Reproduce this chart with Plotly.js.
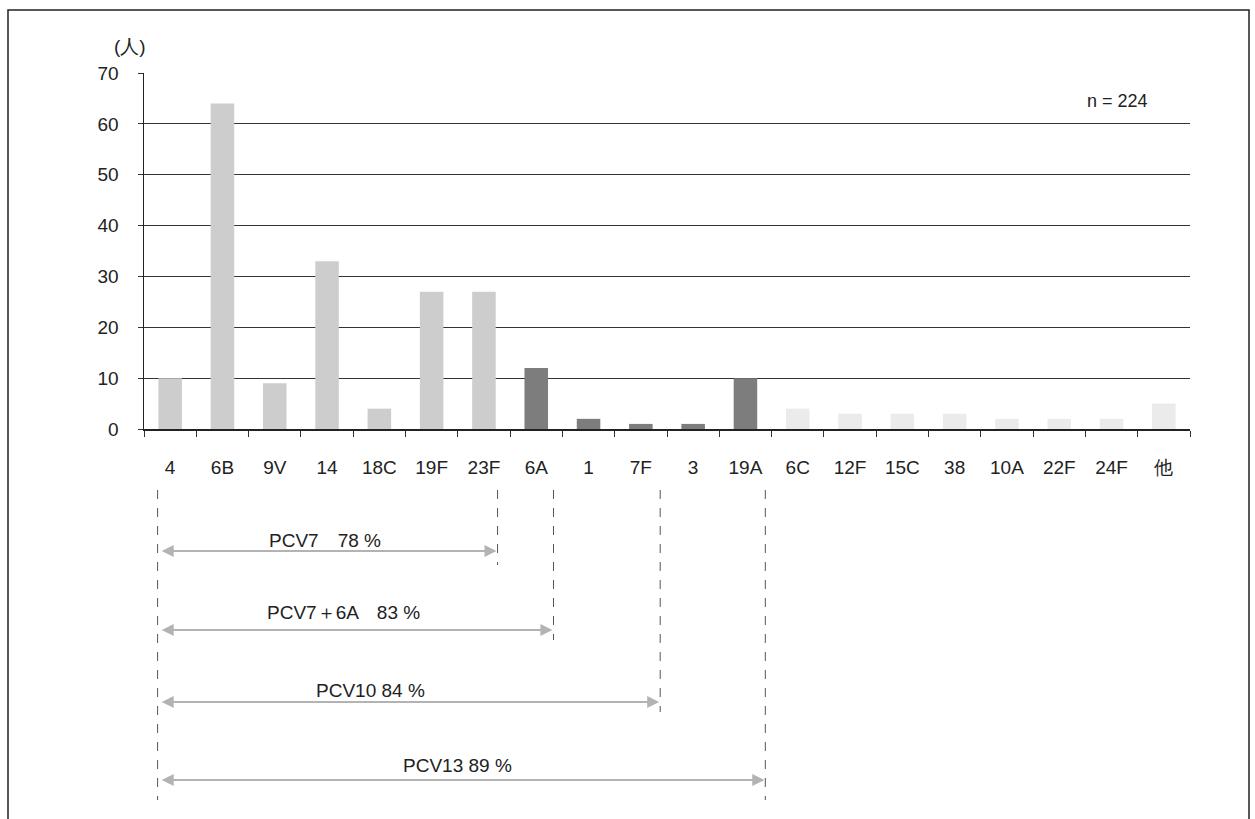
<!DOCTYPE html>
<html><head><meta charset="utf-8">
<script src="https://cdn.plot.ly/plotly-3.0.1.min.js"></script>
<style>html,body{margin:0;padding:0;background:#fff}#chart{width:1255px;height:819px}</style>
</head><body><div id="chart"></div>
<script>
const categories = ['4','6B','9V','14','18C','19F','23F','6A','1','7F','3','19A','6C','12F','15C','38','10A','22F','24F','他'];
const counts = [10,64,9,33,4,27,27,12,2,1,1,10,4,3,3,3,2,2,2,5];
const groups = ['PCV7','PCV7','PCV7','PCV7','PCV7','PCV7','PCV7','ext','ext','ext','ext','ext','other','other','other','other','other','other','other','other'];
const yTicks = [0,10,20,30,40,50,60,70];
const coverageLabels = ['PCV7　78 %','PCV7＋6A　83 %','PCV10 84 %','PCV13 89 %'];
const nLabel = 'n = 224';

const colorMap = {PCV7:'#cdcdcd', ext:'#7d7d7d', other:'#ebebeb'};
const font = 'Liberation Sans, Arial, sans-serif';

const trace = {
  type:'bar', x:categories, y:counts,
  marker:{color:groups.map(g=>colorMap[g]), line:{width:0}},
  width:0.45, hoverinfo:'x+y'
};

const L=144, R=65, T=73, B=390, W=1255, H=819;
const pw=W-L-R, ph=H-T-B;
const py = Y => (H-B-Y)/ph;
const px = X => (X-L)/pw;

// [rightIndex, arrowY, labelX(idx), labelY, dashEndY]
const brackets = [
  [6.26, 551, 2.96, 540, 565],
  [7.33, 630, 3.32, 612, 640],
  [9.37, 702, 3.84, 690, 712],
  [11.38,780, 5.50, 765, 800]
];
const leftIdx = -0.24;

const shapes = [
  {type:'rect', xref:'paper', yref:'paper', x0:px(8), x1:px(1249), y0:py(10), y1:py(830), line:{color:'#222', width:1.5}},
  {type:'line', xref:'x', yref:'paper', x0:leftIdx, x1:leftIdx, y0:py(490), y1:py(800), line:{color:'#555', width:1, dash:'dash'}}
];
const annotations = [
  {xref:'paper', yref:'paper', x:px(130), y:py(47), xanchor:'center', yanchor:'middle', text:'(人)', showarrow:false, font:{family:font, size:19, color:'#222'}},
  {xref:'paper', yref:'paper', x:px(1150), y:py(101), xanchor:'right', yanchor:'middle', text:nLabel, showarrow:false, font:{family:font, size:18, color:'#222'}}
];
brackets.forEach((b,i)=>{
  shapes.push({type:'line', xref:'x', yref:'paper', x0:b[0], x1:b[0], y0:py(490), y1:py(b[4]), line:{color:'#555', width:1, dash:'dash'}});
  annotations.push({xref:'x', yref:'paper', x:b[0]-0.02, y:py(b[1]), axref:'x', ayref:'pixel', ax:leftIdx+0.05, ay:0,
    showarrow:true, arrowside:'end+start', arrowhead:2, arrowsize:1.2, arrowwidth:2, arrowcolor:'#b3b3b3', text:''});
  annotations.push({xref:'x', yref:'paper', x:b[2], y:py(b[3]), xanchor:'center', yanchor:'middle', text:coverageLabels[i], showarrow:false,
    font:{family:font, size:19, color:'#222'}});
});

const layout = {
  width:W, height:H, margin:{l:L, r:R, t:T, b:B},
  paper_bgcolor:'#fff', plot_bgcolor:'#fff', showlegend:false, bargap:0.55,
  font:{family:font, size:18, color:'#222'},
  xaxis:{type:'category', categoryorder:'array', categoryarray:categories, tickson:'boundaries', ticks:'outside', ticklen:6, tickcolor:'#333',
    ticklabelstandoff:21, showline:true, linecolor:'#222', linewidth:1.5, showgrid:false, tickfont:{family:font, size:19, color:'#222'}, fixedrange:true, range:[-0.5,19.5]},
  yaxis:{range:[0,70], tickvals:yTicks, ticks:'outside', ticklen:5, tickcolor:'#333', ticklabelstandoff:15, showline:true, linecolor:'#222', linewidth:1.5,
    showgrid:true, gridcolor:'#333', gridwidth:1, zeroline:false, tickfont:{family:font, size:19, color:'#222'}, fixedrange:true},
  shapes, annotations
};
Plotly.newPlot('chart',[trace],layout,{displayModeBar:false, staticPlot:true});
</script></body></html>
